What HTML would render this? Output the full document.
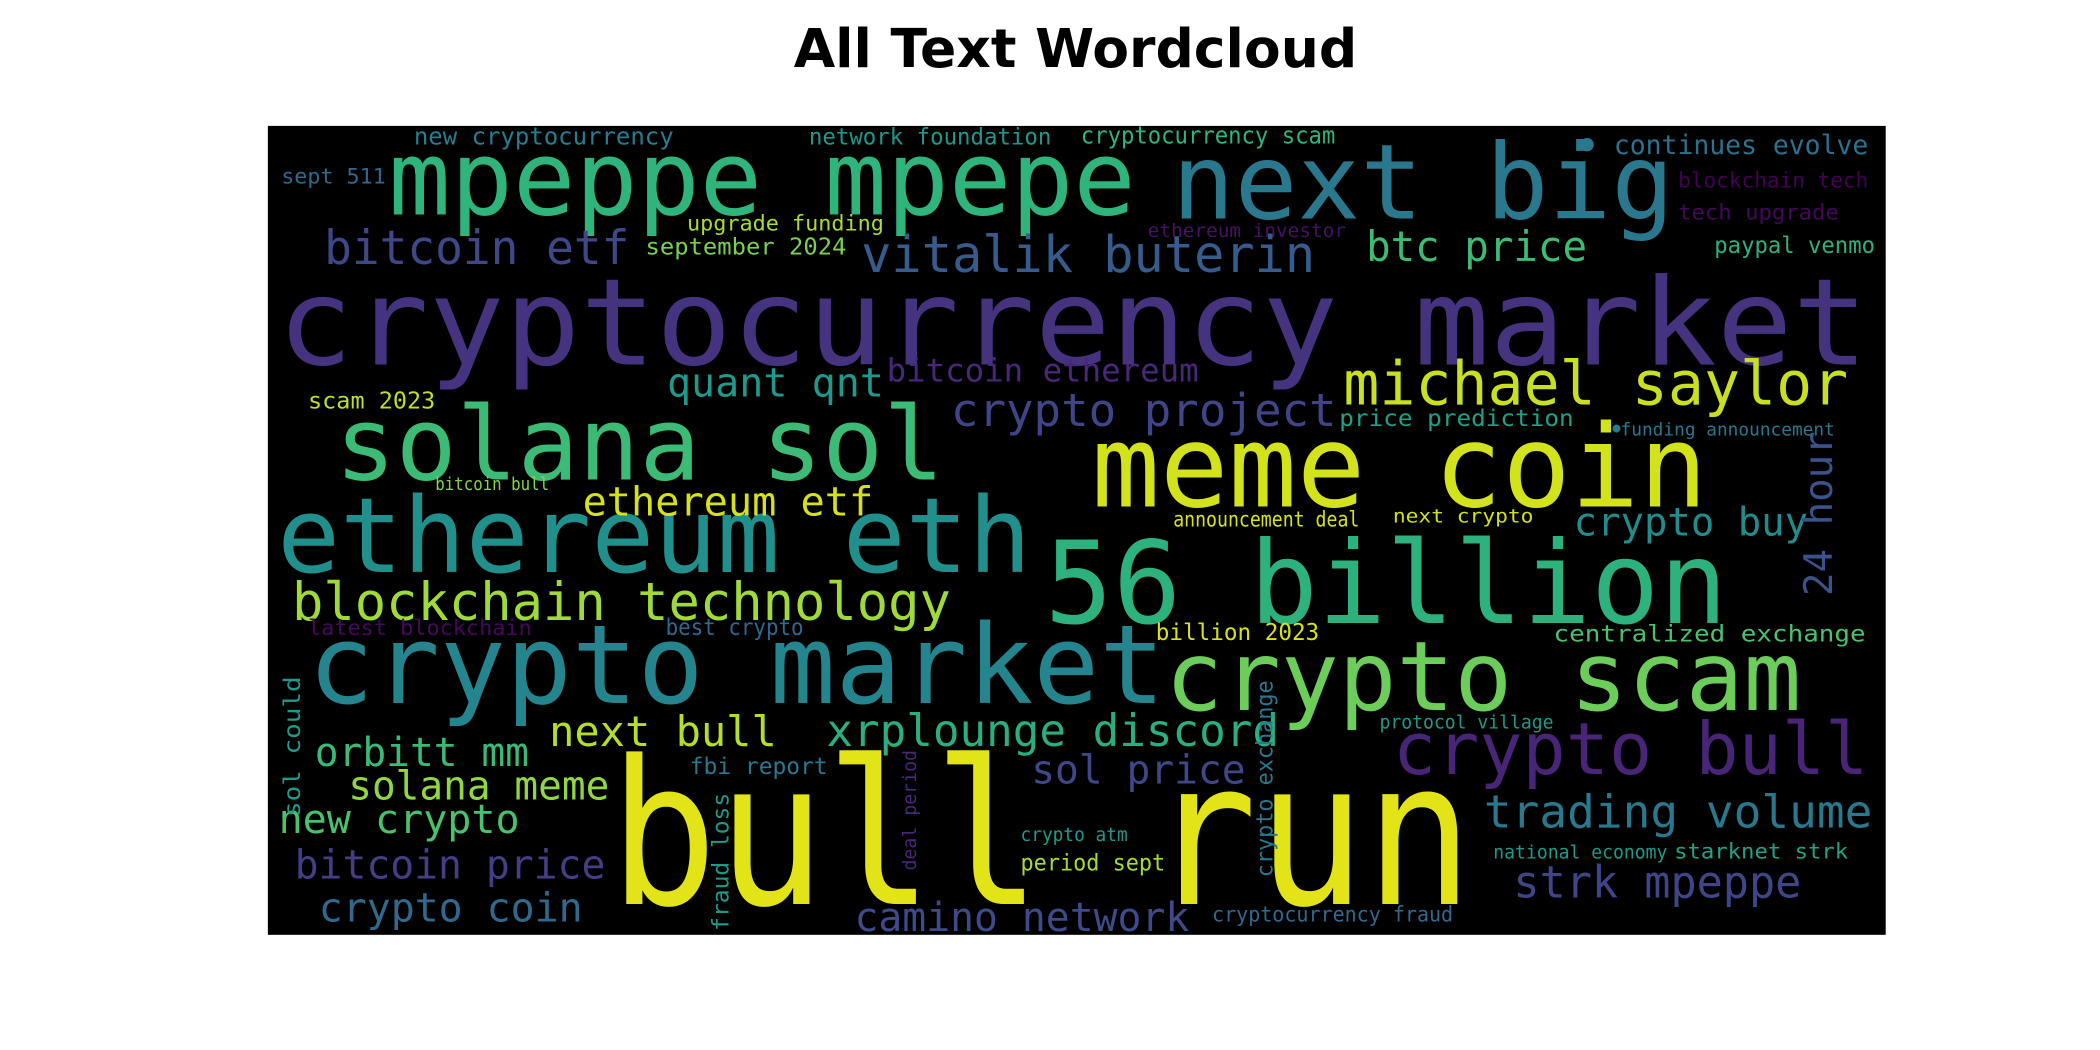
<!DOCTYPE html>
<html><head><meta charset="utf-8"><style>
html,body{margin:0;padding:0;background:#fff;}
svg{display:block;}
.w{font-family:"DejaVu Sans Mono","Liberation Mono",monospace;}
</style></head><body>
<svg width="2100" height="1050" viewBox="0 0 1568 784" xmlns="http://www.w3.org/2000/svg">
<text x="803" y="50" text-anchor="middle" font-family="DejaVu Sans, Liberation Sans, sans-serif" font-weight="bold" font-size="40" fill="#000">All Text Wordcloud</text>
<rect x="200" y="94" width="1208" height="604" fill="#000"/>
<g id="words" class="w"></g>
</svg>
<script>
// word, x-left, baseline, width, font-size, color, rotation(0 or -90)
const words = ["cryptocurrency market","bull run","mpeppe mpepe","next big","solana sol","meme coin","ethereum eth","56 billion","crypto market","crypto scam","crypto bull","michael saylor","blockchain technology","vitalik buterin","bitcoin etf","btc price","quant qnt","bitcoin ethereum","crypto project","ethereum etf","crypto buy","24 hour","next bull","xrplounge discord","orbitt mm","solana meme","new crypto","sol price","trading volume","bitcoin price","strk mpeppe","crypto coin","camino network","new cryptocurrency","network foundation","cryptocurrency scam","continues evolve","sept 511","blockchain tech","tech upgrade","upgrade funding","ethereum investor","september 2024","paypal venmo","scam 2023","price prediction","funding announcement","bitcoin bull","announcement deal","next crypto","latest blockchain","best crypto","billion 2023","centralized exchange","sol could","fbi report","crypto exchange","protocol village","fraud loss","deal period","crypto atm","period sept","national economy","starknet strk","cryptocurrency fraud"];
const xs = [207,455,290,875,250,815,207,780,230,870,1040,1003,218,643,242,1020,498,662,710,435,1175,1368,410,617,235,260,208,770,1108,220,1130,238,638,309,604,807,1205,210,1253,1253,513,857,482,1280,230,1000,1210,325,876,1040,230,497,863,1160,224,515,950,1030,544,684,762,762,1115,1250,905];
const ys = [272,675,160,163,358,378,427,465,525,530,578,302,463,203,197,195,296,285,318,385,400,445,557,557,572,597,622,585,618,656,670,688,695,108,108,107,115,137,140,164,172,177,190,189,305,318,325,366,393,390,474,474,478,479,610,578,655,544,695,650,628,650,641,641,688];
const widths = [1188,645,558,375,455,460,563,510,640,475,355,377,492,339,228,165,162,233,288,217,175,123,170,338,160,195,180,160,290,232,215,197,250,194,181,190,190,78,142,120,147,148,150,120,95,175,160,85,139,105,167,103,122,233,105,103,147,130,103,90,80,108,130,130,180];
const sizes = [90,150,77,78,76,85,78,85,82,72,54,45,39,38,35,31,30,24,34,30,29,29,31,33,30,30,30,30,34,30,33,30,30,18,17,18,20,16,16,16,16,14,17,17,17,17,13,13,16,14,16,17,17,17,17,17,17,14,17,14,14,17,14,16,16];
const colors = ["#46337f","#e2e418","#2fb47c","#2a788e","#3bbb75","#d2e21b","#21908d","#2db27d","#25858e","#6ccd5a","#482576","#c8e020","#a0da39","#365c8d","#3f4788","#3dbc74","#1f9a8a","#482878","#414487","#d5e21a","#228c8d","#3b528b","#b5de2b","#2ab07f","#3aba76","#90d743","#4ac16d","#3f4788","#2a788e","#433e85","#404588","#31688e","#3f4a8a","#287d8e","#1f988b","#2fb47c","#2c718e","#31688e","#440154","#46085c","#a8db34","#471164","#7ad151","#2db27d","#c0df25","#1fa088","#2a788e","#86d549","#d8e219","#d0e11c","#46085c","#31688e","#d8e219","#4ac16d","#1f9a8a","#2a788e","#2a788e","#1f9a8a","#1f9a8a","#482878","#1f9a8a","#a5db36","#1f9a8a","#20a386","#31688e"];
const rot = [0,0,0,0,0,0,0,0,0,0,0,0,0,0,0,0,0,0,0,0,0,-90,0,0,0,0,0,0,0,0,0,0,0,0,0,0,0,0,0,0,0,0,0,0,0,0,0,0,0,0,0,0,0,0,-90,0,-90,0,-90,-90,0,0,0,0,0];
const g = document.getElementById('words');
const NS = 'http://www.w3.org/2000/svg';
words.forEach((w,i)=>{
  const t = document.createElementNS(NS,'text');
  t.setAttribute('x', xs[i]);
  t.setAttribute('y', ys[i]);
  t.setAttribute('font-size', sizes[i]);
  t.setAttribute('fill', colors[i]);
  t.setAttribute('textLength', widths[i]);
  t.setAttribute('lengthAdjust', 'spacingAndGlyphs');
  if (rot[i]) t.setAttribute('transform', 'rotate(' + rot[i] + ' ' + xs[i] + ' ' + ys[i] + ')');
  
  
  t.textContent = w;
  g.appendChild(t);
});
const d1 = document.createElementNS(NS,'circle');
d1.setAttribute('cx',1185);d1.setAttribute('cy',108);d1.setAttribute('r',5);d1.setAttribute('fill','#2a788e');


g.appendChild(d1);
const d2 = document.createElementNS(NS,'circle');
d2.setAttribute('cx',1207);d2.setAttribute('cy',320);d2.setAttribute('r',3);d2.setAttribute('fill','#2a788e');


g.appendChild(d2);
</script>
</body></html>
